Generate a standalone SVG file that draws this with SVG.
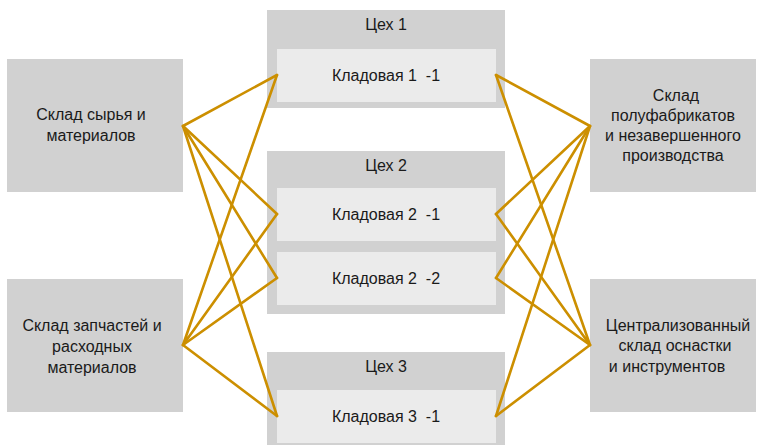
<svg xmlns="http://www.w3.org/2000/svg" width="758" height="445" viewBox="0 0 758 445">
  <style>
    .store { fill: #d1d1d1; }
    .shop { fill: #d1d1d1; }
    .pantry { fill: #ebebeb; }
    text { font-family: "Liberation Sans", Arial, sans-serif; font-size: 16px; fill: #1a1a1a; text-anchor: middle; }
    .link { stroke: #cc8f00; stroke-width: 2.6; fill: none; stroke-linecap: round; stroke-linejoin: round; }
  </style>
  <rect width="758" height="445" fill="#ffffff"/>

  <!-- outgoing warehouses (left) -->
  <g id="raw-materials">
    <rect class="store" x="7" y="59" width="176" height="133"/>
    <text x="91" y="120">Склад сырья и</text>
    <text x="91" y="141">материалов</text>
  </g>
  <g id="spare-parts">
    <rect class="store" x="7" y="279" width="176" height="133"/>
    <text x="92" y="331">Склад запчастей и</text>
    <text x="92" y="352">расходных</text>
    <text x="92" y="373">материалов</text>
  </g>

  <!-- workshops with their pantries -->
  <g id="shop-1">
    <rect class="shop" x="267" y="10" width="238" height="98"/>
    <text x="386" y="30">Цех 1</text>
    <g id="pantry-1-1">
      <rect class="pantry" x="277" y="49" width="219" height="53"/>
      <text x="386" y="81" xml:space="preserve">Кладовая 1  -1</text>
    </g>
  </g>
  <g id="shop-2">
    <rect class="shop" x="267" y="151" width="238" height="163"/>
    <text x="386" y="171">Цех 2</text>
    <g id="pantry-2-1">
      <rect class="pantry" x="277" y="188" width="219" height="53"/>
      <text x="386" y="220" xml:space="preserve">Кладовая 2  -1</text>
    </g>
    <g id="pantry-2-2">
      <rect class="pantry" x="277" y="252" width="219" height="53"/>
      <text x="386" y="284" xml:space="preserve">Кладовая 2  -2</text>
    </g>
  </g>
  <g id="shop-3">
    <rect class="shop" x="267" y="352" width="238" height="93"/>
    <text x="386" y="372">Цех 3</text>
    <g id="pantry-3-1">
      <rect class="pantry" x="277" y="390" width="219" height="53"/>
      <text x="386" y="422" xml:space="preserve">Кладовая 3  -1</text>
    </g>
  </g>

  <!-- receiving warehouses (right) -->
  <g id="semi-finished">
    <rect class="store" x="590" y="59" width="166" height="133"/>
    <text x="676" y="101">Склад</text>
    <text x="673" y="121">полуфабрикатов</text>
    <text x="673" y="141">и незавершенного</text>
    <text x="673" y="161">производства</text>
  </g>
  <g id="tooling">
    <rect class="store" x="590" y="279" width="166" height="133"/>
    <text x="678" y="331">Централизованный</text>
    <text x="675" y="351">склад оснастки</text>
    <text x="667" y="372">и инструментов</text>
  </g>

  <!-- connectors -->
  <g id="connectors">
    <polyline class="link" points="277,75 183,126 277,214"/>
    <line class="link" x1="183" y1="126" x2="277" y2="278"/>
    <line class="link" x1="183" y1="126" x2="277" y2="416"/>
    <polyline class="link" points="277,75 183,345 277,214"/>
    <line class="link" x1="183" y1="345" x2="277" y2="278"/>
    <line class="link" x1="183" y1="345" x2="277" y2="416"/>

    <polyline class="link" points="496,75 590,126 496,214"/>
    <line class="link" x1="590" y1="126" x2="496" y2="278"/>
    <line class="link" x1="590" y1="126" x2="496" y2="416"/>
    <polyline class="link" points="496,75 590,345 496,214"/>
    <line class="link" x1="590" y1="345" x2="496" y2="278"/>
    <line class="link" x1="590" y1="345" x2="496" y2="416"/>
  </g>
</svg>
